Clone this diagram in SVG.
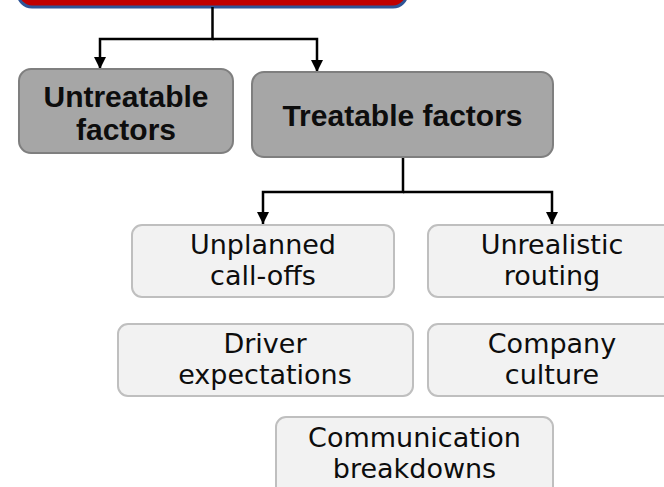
<svg xmlns="http://www.w3.org/2000/svg" width="664" height="487" viewBox="0 0 664 487">
  <style>
    .conn { fill: none; stroke: #000; stroke-width: 2.5; }
    .dark rect { fill: #a6a6a6; stroke: #7f7f7f; stroke-width: 2; }
    .light rect { fill: #f2f2f2; stroke: #bfbfbf; stroke-width: 2; }
    .dark text { font-family: "Liberation Sans", Arial, sans-serif; font-weight: bold; font-size: 30px; fill: #0d0d0d; text-anchor: middle; }
    .light text { font-family: "DejaVu Sans", "Liberation Sans", sans-serif; font-size: 27px; fill: #0d0d0d; text-anchor: middle; }
  </style>
  <defs>
    <marker id="arrow" viewBox="0 0 10 10" refX="10" refY="5" markerWidth="5" markerHeight="5" markerUnits="strokeWidth" orient="auto">
      <path d="M0,0 L10,5 L0,10 z" fill="#000"/>
    </marker>
  </defs>
  <rect width="664" height="487" fill="#fff"/>

  <!-- root box, cropped at the top edge -->
  <g id="root">
    <rect x="18" y="-40" width="389" height="47" rx="14" fill="#c00000" stroke="#2f5597" stroke-width="3"/>
  </g>

  <g id="connectors">
    <path class="conn" d="M212.5,7 V39 H100 V69" marker-end="url(#arrow)"/>
    <path class="conn" d="M212.5,39 H317 V72" marker-end="url(#arrow)"/>
    <path class="conn" d="M403,157 V192 H263 V224" marker-end="url(#arrow)"/>
    <path class="conn" d="M403,192 H552 V224" marker-end="url(#arrow)"/>
  </g>

  <g id="untreatable" class="dark">
    <rect x="19" y="69" width="214" height="84" rx="12"/>
    <text x="126" y="107">Untreatable</text>
    <text x="126" y="140">factors</text>
  </g>

  <g id="treatable" class="dark">
    <rect x="252" y="72" width="301" height="85" rx="12"/>
    <text x="402.5" y="126">Treatable factors</text>
  </g>

  <g id="unplanned" class="light">
    <rect x="132" y="225" width="262" height="72" rx="10"/>
    <text x="263" y="254">Unplanned</text>
    <text x="263" y="285">call-offs</text>
  </g>

  <g id="unrealistic" class="light">
    <rect x="428" y="225" width="250" height="72" rx="10"/>
    <text x="552" y="254">Unrealistic</text>
    <text x="552" y="285">routing</text>
  </g>

  <g id="driver" class="light">
    <rect x="118" y="324" width="295" height="72" rx="10"/>
    <text x="265" y="353">Driver</text>
    <text x="265" y="384">expectations</text>
  </g>

  <g id="company" class="light">
    <rect x="428" y="324" width="250" height="72" rx="10"/>
    <text x="552" y="353">Company</text>
    <text x="552" y="384">culture</text>
  </g>

  <g id="communication" class="light">
    <rect x="276" y="417" width="277" height="90" rx="10"/>
    <text x="414.5" y="447">Communication</text>
    <text x="414.5" y="478">breakdowns</text>
  </g>
</svg>
